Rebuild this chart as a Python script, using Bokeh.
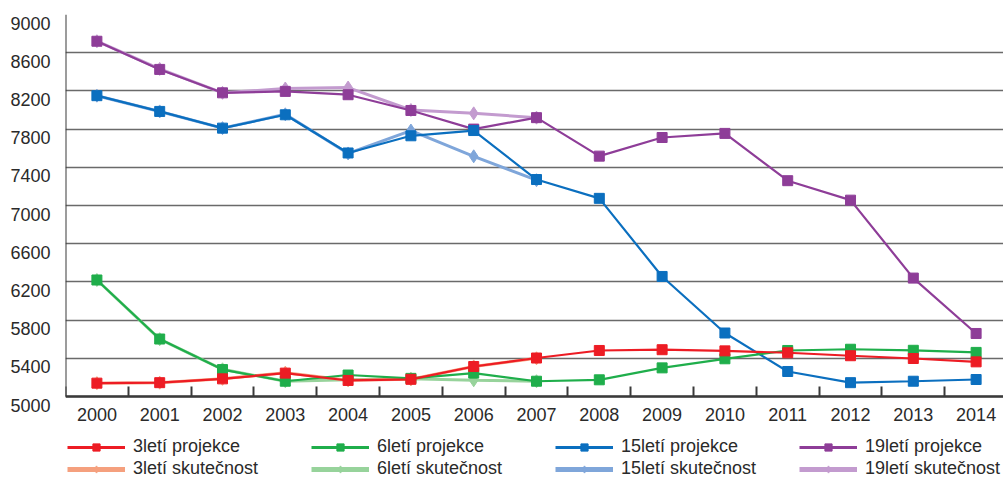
from bokeh.plotting import figure
from bokeh.models import Range1d, FixedTicker, Legend, LegendItem, LinearAxis
from bokeh.embed import file_html
from bokeh.resources import INLINE

# ---- data ----
years = list(range(2000, 2015))
years_actual = list(range(2000, 2008))
y_ticks = [5000, 5400, 5800, 6200, 6600, 7000, 7400, 7800, 8200, 8600, 9000]

proj_3 = [5140, 5145, 5185, 5245, 5168, 5180, 5314, 5403, 5482, 5490, 5478, 5458, 5427, 5398, 5363]
proj_6 = [6220, 5602, 5282, 5160, 5225, 5190, 5245, 5160, 5175, 5300, 5395, 5482, 5495, 5484, 5462]
proj_15 = [8150, 7985, 7810, 7950, 7550, 7730, 7785, 7272, 7075, 6257, 5665, 5262, 5145, 5160, 5178]
proj_19 = [8720, 8425, 8180, 8195, 8160, 7995, 7800, 7920, 7517, 7712, 7755, 7260, 7056, 6240, 5660]

skut_3 = [5140, 5145, 5185, 5250, 5170, 5180, 5315, 5400]
skut_6 = [6220, 5600, 5285, 5160, 5175, 5185, 5170, 5160]
skut_15 = [8150, 7985, 7810, 7955, 7545, 7785, 7515, 7265]
skut_19 = [8720, 8430, 8180, 8225, 8235, 8000, 7965, 7920]

labels_proj = ["3letí projekce", "6letí projekce", "15letí projekce", "19letí projekce"]
labels_skut = ["3letí skutečnost", "6letí skutečnost", "15letí skutečnost", "19letí skutečnost"]

colors_proj = ["#ED1C24", "#1FAE4B", "#0B6FBF", "#8E3D98"]
colors_skut = ["#F5A07E", "#97D39B", "#7FA6DA", "#C39BCF"]

FONT = "Liberation Sans"
TXT = "#2a2a2a"
FS = "18px"
LABEL_SHIFT = 90  # tick labels sit a little below their grid lines

p = figure(width=1003, height=477, output_backend="svg", toolbar_location=None,
           x_range=Range1d(1999.5, 2014.436), y_range=Range1d(4152, 9000),
           min_border_left=65, min_border_right=0, min_border_top=14, min_border_bottom=0)
p.outline_line_color = None
p.background_fill_color = "white"
p.border_fill_color = "white"

# x axis fixed at the bottom of the value range
xa = p.xaxis[0]
xa.fixed_location = y_ticks[0]
xa.ticker = FixedTicker(ticks=years, minor_ticks=[y - 0.5 for y in years])
xa.major_tick_in = 0
xa.major_tick_out = 0
xa.minor_tick_in = 10
xa.minor_tick_out = 0
xa.minor_tick_line_color = "#3a3a3a"
xa.minor_tick_line_width = 2
xa.axis_line_color = "#3a3a3a"
xa.axis_line_width = 2.5
xa.major_label_standoff = 11
xa.major_label_text_font = FONT
xa.major_label_text_font_size = FS
xa.major_label_text_color = TXT

# y labels (no line)
ya = p.yaxis[0]
ya.ticker = FixedTicker(ticks=[v - LABEL_SHIFT for v in y_ticks])
ya.major_label_overrides = {v - LABEL_SHIFT: str(v) for v in y_ticks}
ya.major_tick_in = 0
ya.major_tick_out = 0
ya.minor_tick_line_color = None
ya.axis_line_color = None
ya.major_label_standoff = 15
ya.major_label_text_font = FONT
ya.major_label_text_font_size = FS
ya.major_label_text_color = TXT

# y axis line only
yline = LinearAxis(fixed_location=1999.5, bounds=(y_ticks[0], y_ticks[-1]),
                   ticker=FixedTicker(ticks=[]), axis_line_color="#3a3a3a",
                   axis_line_width=2, major_tick_in=0, major_tick_out=0,
                   minor_tick_line_color=None, major_label_text_font_size="0px")
p.add_layout(yline, "left")

p.xgrid.grid_line_color = None
p.ygrid[0].ticker = FixedTicker(ticks=y_ticks)
p.ygrid.grid_line_color = "#6a6a6a"
p.ygrid.grid_line_width = 1.5

proj_series = [proj_3, proj_6, proj_15, proj_19]
skut_series = [skut_3, skut_6, skut_15, skut_19]

items_proj = [None] * 4
items_skut = [None] * 4

# actual values first (underneath)
for i in [3, 2, 1, 0]:
    c = colors_skut[i]
    ln = p.line(years_actual, skut_series[i], line_color=c, line_width=3)
    sc = p.scatter(years_actual, skut_series[i], marker="diamond", size=13,
                   fill_color=c, line_color=c)
    proxy = p.line(years_actual, skut_series[i], line_color=c, line_width=5, visible=False)
    items_skut[i] = LegendItem(label=labels_skut[i], renderers=[proxy, sc])

# projections on top
for i in [3, 2, 1, 0]:
    c = colors_proj[i]
    ln = p.line(years, proj_series[i], line_color=c, line_width=2.2)
    sc = p.scatter(years, proj_series[i], marker="square", size=10,
                   fill_color=c, line_color=c)
    proxy = p.line(years, proj_series[i], line_color=c, line_width=3, visible=False)
    items_proj[i] = LegendItem(label=labels_proj[i], renderers=[proxy, sc])


def make_legend(items, y_off):
    return Legend(items=items, orientation="horizontal", location=(2, y_off),
                  label_text_font=FONT, label_text_font_size=FS,
                  label_text_color=TXT, glyph_width=58, glyph_height=18,
                  label_height=18, label_standoff=8, label_width=170, spacing=8,
                  padding=0, margin=0, border_line_color=None,
                  background_fill_alpha=0, inactive_fill_alpha=0)


p.add_layout(make_legend(items_proj, 20))
p.add_layout(make_legend(items_skut, -2))

open("out.html", "w").write(file_html(p, INLINE))
